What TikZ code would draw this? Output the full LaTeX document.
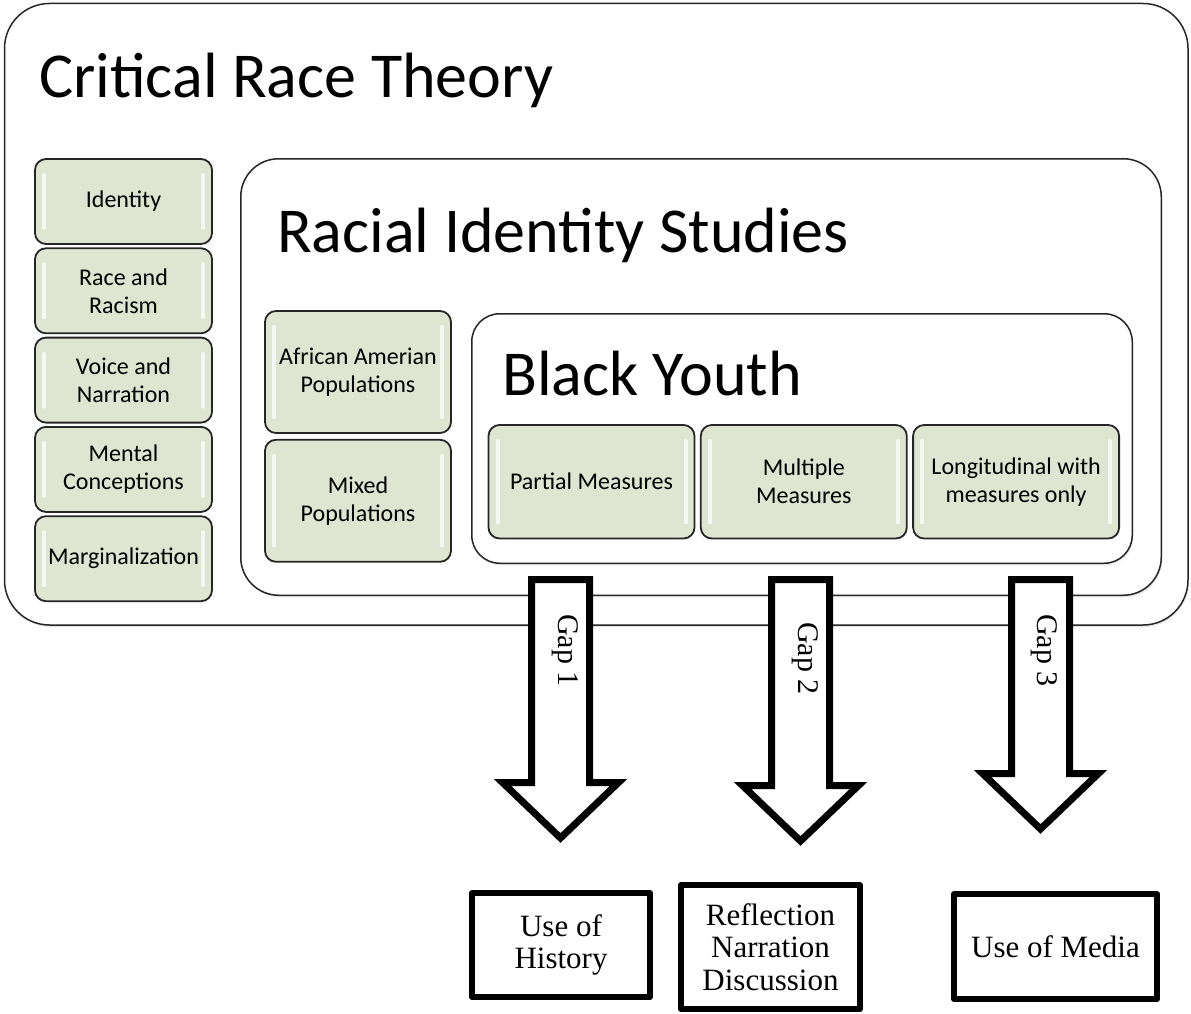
\documentclass[tikz,border=0pt]{standalone}
\usepackage{fontspec}
\setmainfont{Liberation Serif}
\setsansfont{Carlito}
\usepackage{tikz}
\usetikzlibrary{positioning,calc,shadows}
\definecolor{boxgreen}{RGB}{222,229,208}

\begin{document}
\begin{tikzpicture}[x=1pt,y=-1pt,
  container/.style={draw=black!85,line width=1.5pt,rounded corners=#1,inner sep=0pt,fill=white,
    drop shadow={opacity=.18,shadow xshift=1pt,shadow yshift=-2pt}},
  heading/.style={font=\sffamily\fontsize{64}{70}\selectfont,anchor=base west,inner sep=0pt},
  topic/.style={draw=black!85,line width=1.8pt,rounded corners=11pt,fill=boxgreen,align=center,inner sep=1pt,
    font=\sffamily\fontsize{24}{28}\selectfont,
    path picture={
      \draw[white,line width=4pt,line cap=round,opacity=.75]
        ($(path picture bounding box.north west)+(9,16)$) -- ($(path picture bounding box.south west)+(9,-16)$)
        ($(path picture bounding box.north east)+(-9,16)$) -- ($(path picture bounding box.south east)+(-9,-16)$);}},
  gaparrow/.style={draw=black,line width=7pt,fill=white,miter limit=10},
  gaplab/.style={font=\fontsize{30}{32}\selectfont,rotate=-90,anchor=west,inner sep=0pt},
  result/.style={draw=black,line width=6pt,line join=round,align=center,inner sep=2pt,
    font=\fontsize{31}{32.5}\selectfont}]
\useasboundingbox (0,0) rectangle (1191,1014);

% nested frames
\node[container=45pt,minimum width=1183.5pt,minimum height=621.5pt] (crt) at (596.25,314.25) {};
\node[heading] (crttitle) at (39,98) {Critical Race Theory};
\node[container=38pt,minimum width=920.5pt,minimum height=436.5pt] (ris) at (701,377) {};
\node[heading] (ristitle) at (277,252) {Racial Identity Studies};
\node[container=28pt,minimum width=660.5pt,minimum height=249.5pt] (youth) at (802,438.5) {};
\node[heading] (youthtitle) at (502,395) {Black Youth};

% tenets of critical race theory
\node[topic,minimum width=177pt,minimum height=85pt] (identity) at (123.5,201.5) {Identity};
\node[topic,minimum width=177pt,minimum height=85pt,below=2.5pt of identity] (racism) {Race and\\Racism};
\node[topic,minimum width=177pt,minimum height=85pt,below=2.5pt of racism] (voice) {Voice and\\Narration};
\node[topic,minimum width=177pt,minimum height=85pt,below=2.5pt of voice] (mental) {Mental\\Conceptions};
\node[topic,minimum width=177pt,minimum height=85pt,below=2.5pt of mental] (margin) {Marginalization};

% populations
\node[topic,minimum width=186pt,minimum height=122pt] (african) at (358,372) {African Amerian\\Populations};
\node[topic,minimum width=186pt,minimum height=122pt,below=5pt of african] (mixed) {Mixed\\Populations};

% measures
\node[topic,minimum width=206pt,minimum height=113.5pt] (partial) at (591.5,481.75) {Partial Measures};
\node[topic,minimum width=206pt,minimum height=113.5pt,right=4.5pt of partial] (multiple) {Multiple\\Measures};
\node[topic,minimum width=206pt,minimum height=113.5pt,right=4.5pt of multiple] (longit) {Longitudinal with\\measures only};

% gaps
\draw[gaparrow] (531.5,579.5) -- (531.5,782.5) -- (502.5,782.5) -- (560.5,838) -- (618.5,782.5) -- (589.5,782.5) -- (589.5,579.5) -- cycle;
\draw[gaparrow] (771.5,579.5) -- (771.5,785.5) -- (742.5,785.5) -- (800.5,841) -- (858.5,785.5) -- (829.5,785.5) -- (829.5,579.5) -- cycle;
\draw[gaparrow] (1011.5,579.5) -- (1011.5,773.5) -- (982.5,773.5) -- (1040.5,829) -- (1098.5,773.5) -- (1069.5,773.5) -- (1069.5,579.5) -- cycle;
\node[gaplab] (gapone) at (565,614) {Gap 1};
\node[gaplab] (gaptwo) at (805,622) {Gap 2};
\node[gaplab] (gapthree) at (1044,614) {Gap 3};

% outcomes
\node[result,minimum width=178pt,minimum height=104pt] (history) at (561,945) {Use of\\History};
\node[result,minimum width=179pt,minimum height=124pt] (reflection) at (770.5,947) {Reflection\\Narration\\Discussion};
\node[result,minimum width=203pt,minimum height=105pt] (media) at (1055.5,946.5) {Use of Media};
\end{tikzpicture}
\end{document}
